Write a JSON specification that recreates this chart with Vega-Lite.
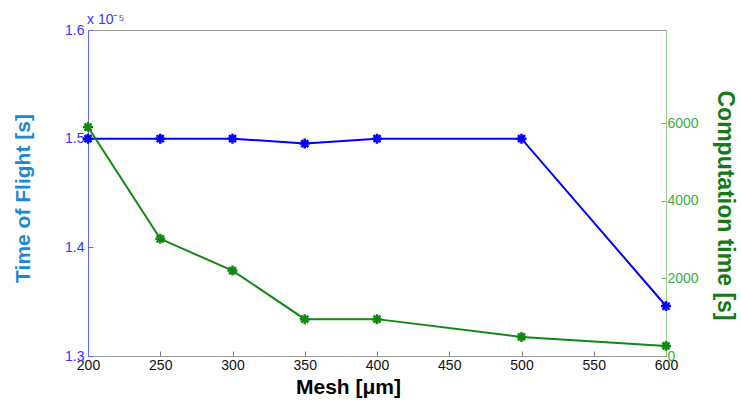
{
  "$schema": "https://vega.github.io/schema/vega-lite/v6.json",
  "autosize": {"type": "none"},
  "width": 578,
  "height": 326,
  "padding": {"left": 88, "top": 30, "right": 75, "bottom": 50},
  "background": "white",
  "config": {
    "font": "Liberation Sans",
    "view": {"stroke": "#999999", "strokeWidth": 1},
    "axis": {"grid": false, "labelFont": "Liberation Sans", "titleFont": "Liberation Sans"}
  },
  "title": {
    "text": "x 10⁻⁵",
    "anchor": "start",
    "frame": "group",
    "fontSize": 14,
    "fontWeight": "normal",
    "color": "#3333ff",
    "offset": 2,
    "dy": 6,
    "dx": -1
  },
  "data": {
    "values": [
      {"mesh": 200, "tof": 1.5, "comp": 5900},
      {"mesh": 250, "tof": 1.5, "comp": 3020},
      {"mesh": 300, "tof": 1.5, "comp": 2200},
      {"mesh": 350, "tof": 1.4955, "comp": 950},
      {"mesh": 400, "tof": 1.5, "comp": 950},
      {"mesh": 500, "tof": 1.5, "comp": 490},
      {"mesh": 600, "tof": 1.346, "comp": 260}
    ]
  },
  "encoding": {
    "x": {
      "field": "mesh",
      "type": "quantitative",
      "scale": {"domain": [200, 600], "nice": false, "zero": false},
      "axis": {
        "values": [200, 250, 300, 350, 400, 450, 500, 550, 600],
        "title": "Mesh [μm]",
        "titleFontSize": 21,
        "titleFontWeight": "bold",
        "titleColor": "black",
        "titlePadding": 4,
        "titleX": 260,
        "labelFontSize": 14,
        "labelColor": "#111111",
        "labelPadding": 7,
        "tickSize": -5,
        "tickColor": "#777777",
        "domainColor": "#999999",
        "labelFlush": false
      }
    }
  },
  "layer": [
    {
      "mark": {
        "type": "line",
        "color": "#0000ff",
        "strokeWidth": 2,
        "point": {
          "shape": "M-1,0L1,0M0,-1L0,1M-0.7,-0.7L0.7,0.7M-0.7,0.7L0.7,-0.7",
          "filled": false,
          "stroke": "#0000ff",
          "strokeWidth": 2.5,
          "size": 100
        }
      },
      "encoding": {
        "y": {
          "field": "tof",
          "type": "quantitative",
          "scale": {"domain": [1.3, 1.6], "nice": false, "zero": false},
          "axis": {
            "orient": "left",
            "values": [1.3, 1.4, 1.5, 1.6],
            "format": ".1f",
            "title": "Time of Flight [s]",
            "titleFontSize": 21,
            "titleFontWeight": "bold",
            "titleColor": "#1a8ad4",
            "titlePadding": 31,
            "titleY": 168,
            "labelFontSize": 14,
            "labelColor": "#3333ff",
            "labelPadding": 9,
            "tickSize": -5,
            "tickColor": "#6666ff",
            "domainColor": "#6666ff"
          }
        }
      }
    },
    {
      "mark": {
        "type": "line",
        "color": "#118811",
        "strokeWidth": 2,
        "point": {
          "shape": "M-1,0L1,0M0,-1L0,1M-0.7,-0.7L0.7,0.7M-0.7,0.7L0.7,-0.7",
          "filled": false,
          "stroke": "#118811",
          "strokeWidth": 2.5,
          "size": 100
        }
      },
      "encoding": {
        "y": {
          "field": "comp",
          "type": "quantitative",
          "scale": {"domain": [0, 8400], "nice": false, "zero": true},
          "axis": {
            "orient": "right",
            "values": [0, 2000, 4000, 6000],
            "format": "d",
            "title": "Computation time [s]",
            "titleFontSize": 23,
            "titleFontWeight": "bold",
            "titleColor": "#157a15",
            "titlePadding": 14,
            "titleY": 175,
            "labelFontSize": 14,
            "labelColor": "#44aa44",
            "labelPadding": 6,
            "tickSize": -5,
            "tickColor": "#66bb66",
            "domainColor": "#99cc99"
          }
        }
      }
    }
  ],
  "resolve": {"scale": {"y": "independent"}}
}
